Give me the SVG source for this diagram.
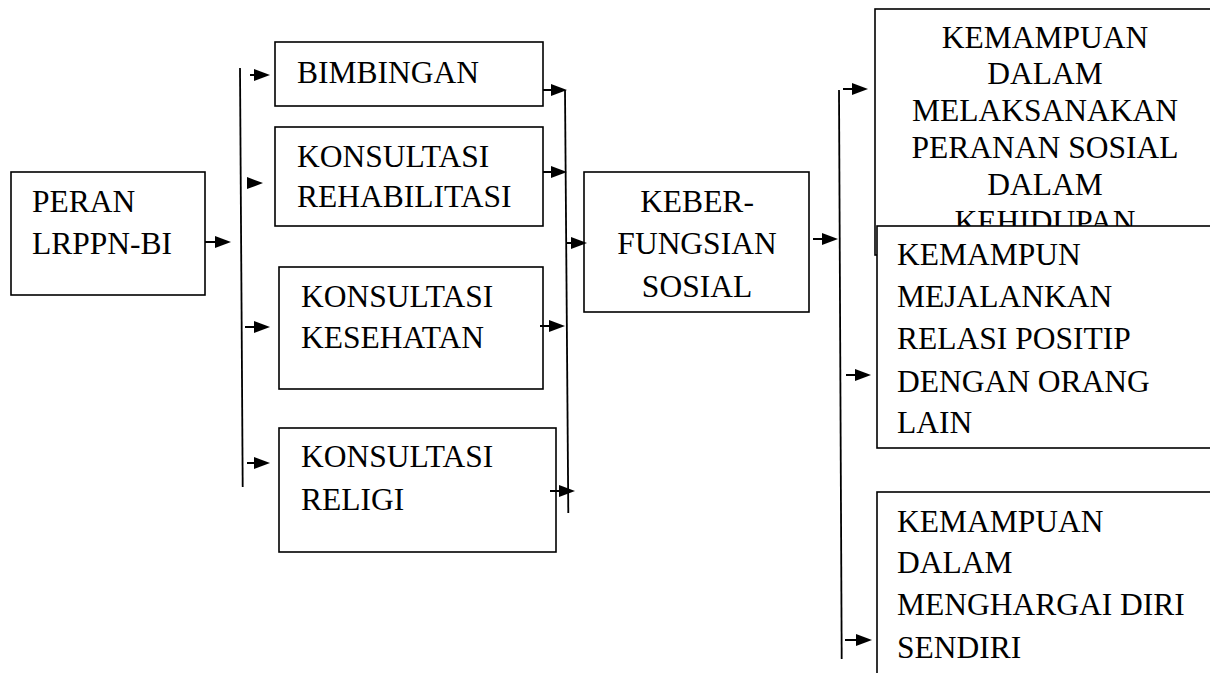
<svg xmlns="http://www.w3.org/2000/svg" width="1210" height="673" viewBox="0 0 1210 673" font-family="'Liberation Serif', 'Times New Roman', serif" font-size="31.5">
  <style>
    .box { fill: #fff; stroke: #000; stroke-width: 1.6; }
    .c { text-anchor: middle; }
    .ln { stroke: #000; stroke-width: 1.8; fill: none; }
    .sh { stroke: #000; stroke-width: 2; fill: none; }
    .hd { fill: #000; }
  </style>
  <defs>
    <clipPath id="cut1">
      <rect x="860" y="0" width="350" height="226"/>
    </clipPath>
  </defs>
  <rect width="1210" height="673" fill="#fff"/>

  <g id="peran" font-family="'Liberation Serif', serif">
    <rect class="box" x="11" y="172" width="194" height="123"/>
    <text x="32" y="212">PERAN</text>
    <text x="32" y="254">LRPPN-BI</text>
  </g>
  <g id="bimbingan" font-family="'Liberation Serif', serif">
    <rect class="box" x="275" y="42" width="268" height="64"/>
    <text x="297" y="83">BIMBINGAN</text>
  </g>
  <g id="rehabilitasi" font-family="'Liberation Serif', serif">
    <rect class="box" x="275" y="127" width="268" height="99"/>
    <text x="297" y="167">KONSULTASI</text>
    <text x="297" y="207">REHABILITASI</text>
  </g>
  <g id="kesehatan" font-family="'Liberation Serif', serif">
    <rect class="box" x="279" y="267" width="264" height="122"/>
    <text x="301" y="307">KONSULTASI</text>
    <text x="301" y="348">KESEHATAN</text>
  </g>
  <g id="religi" font-family="'Liberation Serif', serif">
    <rect class="box" x="279" y="428" width="277" height="124"/>
    <text x="301" y="467">KONSULTASI</text>
    <text x="301" y="510">RELIGI</text>
  </g>
  <g id="keberfungsian" font-family="'Liberation Serif', serif">
    <rect class="box" x="584" y="172" width="225" height="140"/>
    <text class="c" x="697" y="212">KEBER-</text>
    <text class="c" x="697" y="254">FUNGSIAN</text>
    <text class="c" x="697" y="297">SOSIAL</text>
  </g>
  <g id="peranan-sosial" font-family="'Liberation Serif', serif">
    <rect class="box" x="875" y="9" width="360" height="246"/>
    <g clip-path="url(#cut1)">
      <text class="c" x="1045" y="48">KEMAMPUAN</text>
      <text class="c" x="1045" y="84">DALAM</text>
      <text class="c" x="1045" y="121">MELAKSANAKAN</text>
      <text class="c" x="1045" y="158">PERANAN SOSIAL</text>
      <text class="c" x="1045" y="195">DALAM</text>
      <text class="c" x="1045" y="232">KEHIDUPAN</text>
    </g>
  </g>
  <g id="relasi-positip" font-family="'Liberation Serif', serif">
    <rect class="box" x="877" y="226" width="360" height="222"/>
    <text x="897" y="265">KEMAMPUN</text>
    <text x="897" y="307">MEJALANKAN</text>
    <text x="897" y="349">RELASI POSITIP</text>
    <text x="897" y="392">DENGAN ORANG</text>
    <text x="897" y="433">LAIN</text>
  </g>
  <g id="menghargai-diri" font-family="'Liberation Serif', serif">
    <rect class="box" x="877" y="492" width="360" height="200"/>
    <text x="897" y="532">KEMAMPUAN</text>
    <text x="897" y="573">DALAM</text>
    <text x="897" y="615">MENGHARGAI DIRI</text>
    <text x="897" y="658">SENDIRI</text>
  </g>

  <g id="connectors">
    <line class="ln" x1="240" y1="68" x2="242.7" y2="487"/>
    <line class="ln" x1="565" y1="90" x2="568.3" y2="513"/>
    <line class="ln" x1="839" y1="90" x2="841.7" y2="659"/>
    <line class="sh" x1="205" y1="242" x2="220" y2="242"/>
    <polygon class="hd" points="215,236 231,242 215,248"/>
    <line class="sh" x1="250" y1="75" x2="258" y2="75"/>
    <polygon class="hd" points="254,69 270,75 254,81"/>
    <polygon class="hd" points="247,177 263,183 247,189"/>
    <line class="sh" x1="245" y1="327" x2="258" y2="327"/>
    <polygon class="hd" points="254,321 270,327 254,333"/>
    <line class="sh" x1="247" y1="463" x2="258" y2="463"/>
    <polygon class="hd" points="254,457 270,463 254,469"/>
    <line class="sh" x1="543" y1="90" x2="555" y2="90"/>
    <polygon class="hd" points="551,84 567,90 551,96"/>
    <line class="sh" x1="543" y1="172" x2="555" y2="172"/>
    <polygon class="hd" points="551,166 567,172 551,178"/>
    <line class="sh" x1="540" y1="326" x2="553" y2="326"/>
    <polygon class="hd" points="549,320 565,326 549,332"/>
    <line class="sh" x1="550" y1="491" x2="563" y2="491"/>
    <polygon class="hd" points="559,485 575,491 559,497"/>
    <line class="sh" x1="566" y1="243" x2="575" y2="243"/>
    <polygon class="hd" points="571,237 587,243 571,249"/>
    <line class="sh" x1="813" y1="239" x2="826" y2="239"/>
    <polygon class="hd" points="822,233 838,239 822,245"/>
    <line class="sh" x1="843" y1="89" x2="856" y2="89"/>
    <polygon class="hd" points="852,83 868,89 852,95"/>
    <line class="sh" x1="846" y1="375" x2="859" y2="375"/>
    <polygon class="hd" points="855,369 871,375 855,381"/>
    <line class="sh" x1="845" y1="640" x2="860" y2="640"/>
    <polygon class="hd" points="856,634 872,640 856,646"/>
  </g>
</svg>
